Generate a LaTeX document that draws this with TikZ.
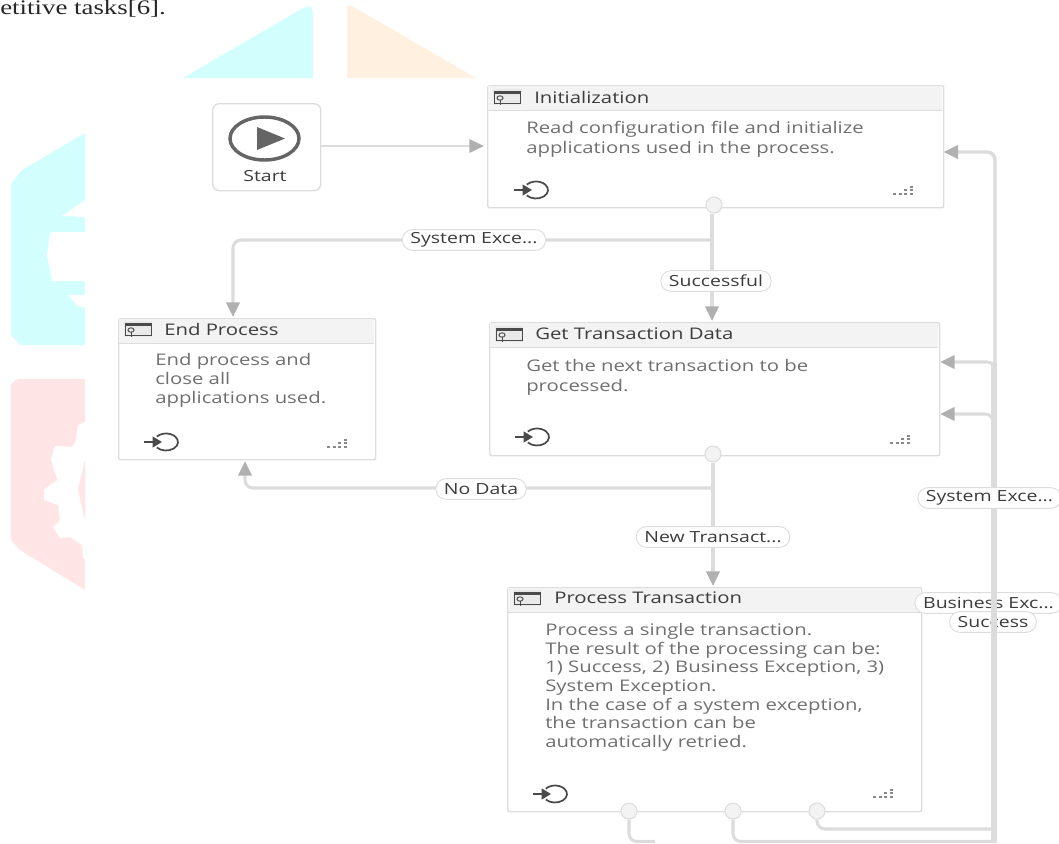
\documentclass[tikz,border=0pt]{standalone}
\usepackage{fontspec}
\setmainfont[FakeStretch=1.27]{Open Sans}
\newfontfamily\serifpart[FakeStretch=1.3]{Liberation Serif}
\usetikzlibrary{arrows.meta}
\definecolor{wire}{HTML}{DCDCDC}
\definecolor{tipc}{HTML}{B0B0B0}
\definecolor{edgec}{HTML}{DDDDDD}
\definecolor{headc}{HTML}{F3F3F3}
\definecolor{titlec}{HTML}{3C3C3C}
\definecolor{bodyc}{HTML}{707070}
\definecolor{iconc}{HTML}{4A4A4A}
\definecolor{bgcyan}{HTML}{D2FEFE}
\definecolor{bgpeach}{HTML}{FFF0E0}
\definecolor{bgred}{HTML}{FFE5E5}
\newcommand{\bodyf}[1]{\fontsize{12}{#1}\selectfont}
\tikzset{
  x=0.75pt,y=-0.75pt,
  card/.style={draw=edgec,line width=1.1pt,fill=white,rounded corners=1.5pt,inner sep=0pt,anchor=north west},
  titletext/.style={text=titlec,font=\fontsize{12}{14}\selectfont,inner sep=0pt,anchor=west},
  bodytext/.style={text=bodyc,inner sep=0pt,anchor=north west,align=left},
  portdot/.style={circle,draw=edgec,fill=headc,line width=0.8pt,minimum size=12pt,inner sep=0pt},
  flow/.style={draw=wire,line width=2.3pt,rounded corners=6pt},
  flowtip/.style={flow,-{Triangle[length=11pt,width=10pt,color=tipc]}},
  pill/.style={draw=edgec,line width=0.7pt,fill=white,rounded corners=7.5pt,text=titlec,font=\fontsize{11.5}{13}\selectfont,inner xsep=6pt,inner ysep=0pt,minimum height=15.5pt},
}
\newcommand{\acticon}[2]{%
  \fill[iconc!12] (#1-1,#2-8) rectangle (#1+27,#2+8);
  \draw[iconc,line width=0.6pt] (#1,#2-6) rectangle (#1+26,#2+6);
  \fill[iconc] (#1,#2-6.5) rectangle (#1+26,#2-3.5);
  \draw[iconc,line width=0.7pt] (#1+6,#2+1) circle[x radius=3,y radius=2.2];
  \draw[iconc,line width=0.7pt] (#1+6,#2+3) -- (#1+6,#2+8);
}
\newcommand{\loopicon}[2]{%
  \draw[iconc,line width=1.3pt] (#1,#2) ++(140:12 and 8.5) arc[start angle=140,end angle=-140,x radius=12,y radius=8.5];
  \draw[iconc,line width=1.4pt,-{Triangle[length=7pt,width=8pt]}] (#1-22,#2) -- (#1-4,#2);
}
\newcommand{\griddots}[2]{%
  \foreach \a/\b in {0/0,5.5/0,11/0,16.5/0,11/-3.7,16.5/-3.7,16.5/-7.4}{\fill[iconc!65] (#1+\a,#2+\b) rectangle (#1+\a+3,#2+\b+2);}
}
\begin{document}
\begin{tikzpicture}
\useasboundingbox (0,0) rectangle (1059,843);
% faded page artwork
\fill[bgcyan] (183,78) -- (303,8) -- (311,6) -- (313,12) -- (313,78) -- cycle;
\fill[bgpeach] (347,78) -- (347,6) -- (352,6) -- (476,78) -- cycle;
\fill[bgcyan] (85,133) -- (22,170) -- (11,184) -- (11,335) -- (20,345) -- (85,345) -- cycle;
\fill[white] (85,200) -- (62,216) -- (85,217) -- cycle;
\fill[white] (85,232) -- (50,232) -- (47,255) -- (52,281) -- (85,281) -- cycle;
\fill[white] (68,295) -- (85,295) -- (85,308) -- (78,306) -- cycle;
\fill[bgred] (11,384) -- (18,379) -- (85,379) -- (85,590) -- (20,550) -- (11,540) -- cycle;
\fill[white] (85,422) -- (78,425) -- (76,440) -- (72,447) -- (55,446) -- (51,458) -- (54,470) -- (58,480) -- (50,485) -- (44,490) -- (44,500) -- (58,505) -- (60,520) -- (53,527) -- (60,538) -- (70,537) -- (82,545) -- (83,557) -- (85,560) -- cycle;
\fill[bgred] (85,460) -- (78,490) -- (85,520) -- cycle;
% page text
\node[inner sep=0pt,anchor=base west,text=black!85,font=\serifpart\fontsize{15.5}{17}\selectfont] (pagetext) at (0,14) {etitive tasks[6].};
% cards
\node[card,minimum width=342pt,minimum height=91.5pt] (init) at (487,85) {};
\node[card,minimum width=337.5pt,minimum height=99.75pt] (get) at (489,322) {};
\node[card,minimum width=192.75pt,minimum height=105.75pt] (endp) at (118,318) {};
\node[card,minimum width=310.5pt,minimum height=168pt] (proc) at (507,587) {};
\node[draw=edgec,line width=1pt,fill=white,rounded corners=5pt,minimum width=81pt,minimum height=65.25pt,inner sep=0pt,anchor=north west] (start) at (212,103) {};
% headers
\fill[headc] (488,86) rectangle (942,110); \draw[edgec,line width=0.7pt] (488,110.5) -- (942,110.5);
\fill[headc] (490,323) rectangle (938,347); \draw[edgec,line width=0.7pt] (490,347.5) -- (938,347.5);
\fill[headc] (119,319) rectangle (374,343); \draw[edgec,line width=0.7pt] (119,343.5) -- (374,343.5);
\fill[headc] (508,588) rectangle (920,612); \draw[edgec,line width=0.7pt] (508,612.5) -- (920,612.5);
% titles
\node[titletext] (t1) at (534,97) {Initialization};
\node[titletext] (t2) at (535,334) {Get Transaction Data};
\node[titletext] (t3) at (164,329) {End Process};
\node[titletext] (t4) at (554,598) {Process Transaction};
% bodies
\node[bodytext,font=\bodyf{15}] (b1) at (526,121) {Read configuration file and initialize\\applications used in the process.};
\node[bodytext,font=\bodyf{15}] (b2) at (526,359) {Get the next transaction to be\\processed.};
\node[bodytext,font=\bodyf{14.25}] (b3) at (155,353) {End process and\\close all\\applications used.};
\node[bodytext,font=\bodyf{14}] (b4) at (545,623) {Process a single transaction.\\The result of the processing can be:\\1) Success, 2) Business Exception, 3)\\System Exception.\\In the case of a system exception,\\the transaction can be\\automatically retried.};
% icons
\acticon{494}{97}
\acticon{496}{334}
\acticon{125}{329}
\acticon{514}{598}
\loopicon{536}{190}
\loopicon{537}{437}
\loopicon{166}{442}
\loopicon{555}{794}
\griddots{893}{193}
\griddots{890}{442}
\griddots{327}{446}
\griddots{873}{796}
% start icon
\draw[iconc!85,line width=2.6pt] (264.5,138.5) circle[x radius=34.5,y radius=21.5];
\fill[iconc!85] (257,127) -- (285,138.5) -- (257,150) -- cycle;
\node[inner sep=0pt,text=titlec,font=\fontsize{11.5}{13}\selectfont] (startlabel) at (265,176) {Start};
% ports
\node[portdot] (p1) at (714,205) {};
\node[portdot] (p2) at (713,454) {};
\node[portdot] (p3) at (629,811) {};
\node[portdot] (p4) at (733,811) {};
\node[portdot] (p5) at (817,811) {};
% free ends and corners
\coordinate (botA) at (655,841.5);
\coordinate (trunkB) at (994,841.5);
\coordinate (trunkTop) at (994,362);
\coordinate (trunkEnd) at (994,843);
\coordinate (initIn) at (943.5,152);
\coordinate (getInA) at (940,362);
\coordinate (getInB) at (940,414);
\coordinate (procIn) at (713,586);
\coordinate (okIn) at (712,321);
% connectors
\draw[flowtip,line width=1.9pt] (start.east |- 0,146) -- (484,146);
\draw[flow] (p3) -- (629,841.5) -- (botA);
\draw[flowtip] (p1.south -| okIn) -- (okIn);
\draw[flowtip] (712,240) -- (233,240) -- (233,317);
\draw[flowtip] (p2) -- (procIn);
\draw[flowtip] (713,488) -- (245,488) -- (245,461);
% pills under the trunk
\node[pill] (lbiz) at (988.5,603) {Business Exc...};
\node[pill] (lsuc) at (993,622) {Success};
% trunk and its branches
\draw[flowtip,line width=2.6pt] (995,370) -- (995,152) -- (initIn);
\draw[flowtip] (995,375) -- (995,362) -- (getInA);
\draw[flowtip] (993,425) -- (993,414) -- (getInB);
\draw[draw=wire,line width=4.5pt] (trunkTop) -- (trunkEnd);
\draw[flow] (p5) -- (817,829) -- (991,829);
\draw[flow] (p4) -- (733,841.5) -- (trunkB);
% pills over the connectors
\node[pill] (lsys) at (474,240) {System Exce...};
\node[pill] (lok) at (716,281) {Successful};
\node[pill] (lnod) at (481,489) {No Data};
\node[pill] (lnew) at (713,537) {New Transact...};
\node[pill] (lsys2) at (989.5,498) {System Exce...};
\end{tikzpicture}
\end{document}
